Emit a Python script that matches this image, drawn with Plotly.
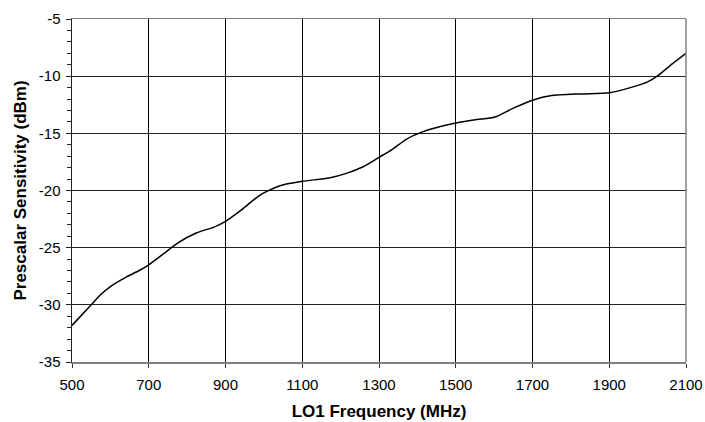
import plotly.graph_objects as go

freq_mhz = [500, 525, 550, 575, 600, 640, 675, 700, 740, 775, 825, 870, 900, 945,
            990, 1040, 1100, 1170, 1215, 1260, 1300, 1335, 1372, 1415, 1460, 1500,
            1555, 1600, 1650, 1700, 1750, 1825, 1900, 1955, 2000, 2025, 2065, 2100]
sensitivity_dbm = [-31.8, -30.9, -30.0, -29.1, -28.4, -27.6, -27.0, -26.5, -25.5, -24.6,
                   -23.7, -23.2, -22.7, -21.6, -20.4, -19.6, -19.2, -18.9, -18.5, -17.9,
                   -17.1, -16.4, -15.5, -14.85, -14.4, -14.1, -13.8, -13.6, -12.8, -12.1,
                   -11.7, -11.55, -11.45, -11.0, -10.5, -10.0, -8.9, -8.0]

x_ticks = [500, 700, 900, 1100, 1300, 1500, 1700, 1900, 2100]
y_ticks = [-35, -30, -25, -20, -15, -10, -5]

font = "Liberation Sans, Arial, sans-serif"

fig = go.Figure()
fig.add_trace(go.Scatter(
    x=freq_mhz, y=sensitivity_dbm, mode="lines",
    line=dict(color="black", width=1.5, shape="spline", smoothing=0.6),
    showlegend=False, hoverinfo="skip",
))

fig.update_layout(
    width=705, height=422,
    margin=dict(l=72, r=19, t=19, b=60, autoexpand=False),
    paper_bgcolor="white", plot_bgcolor="white",
    font=dict(family=font, size=15, color="black"),
)
fig.update_xaxes(
    range=[500, 2100], tickvals=x_ticks, ticktext=[str(v) for v in x_ticks],
    showgrid=True, gridcolor="#000000", gridwidth=1,
    showline=True, linecolor="#808080", linewidth=1.5, mirror=True,
    ticks="outside", ticklen=4, tickcolor="#333333",
    ticklabelstandoff=4,
    zeroline=False, automargin=False,
    tickfont=dict(family=font, size=15, color="black"),
    title=dict(text="<b>LO1 Frequency (MHz)</b>", font=dict(family=font, size=17, color="black"), standoff=13),
)
fig.update_yaxes(
    range=[-35, -5], tickvals=y_ticks, ticktext=[str(v) for v in y_ticks],
    showgrid=True, gridcolor="#222222", gridwidth=1,
    showline=True, linecolor="#222222", linewidth=1.5, mirror=False,
    ticks="outside", ticklen=5, tickcolor="#222222",
    minor=dict(dtick=1, ticks="outside", ticklen=4, tickcolor="#222222", showgrid=False),
    ticklabelstandoff=2,
    zeroline=False, automargin=False,
    tickfont=dict(family=font, size=15, color="black"),
    title=dict(text="<b>Prescalar Sensitivity (dBm)</b>", font=dict(family=font, size=17, color="black"), standoff=8),
)
fig.add_shape(type="line", xref="paper", yref="paper", x0=1, x1=1, y0=0, y1=1,
              line=dict(color="#808080", width=1.5))

fig.write_html("out.html", config={"displayModeBar": False, "staticPlot": True},
               post_script="document.body.style.margin='0';document.body.style.padding='0';")
